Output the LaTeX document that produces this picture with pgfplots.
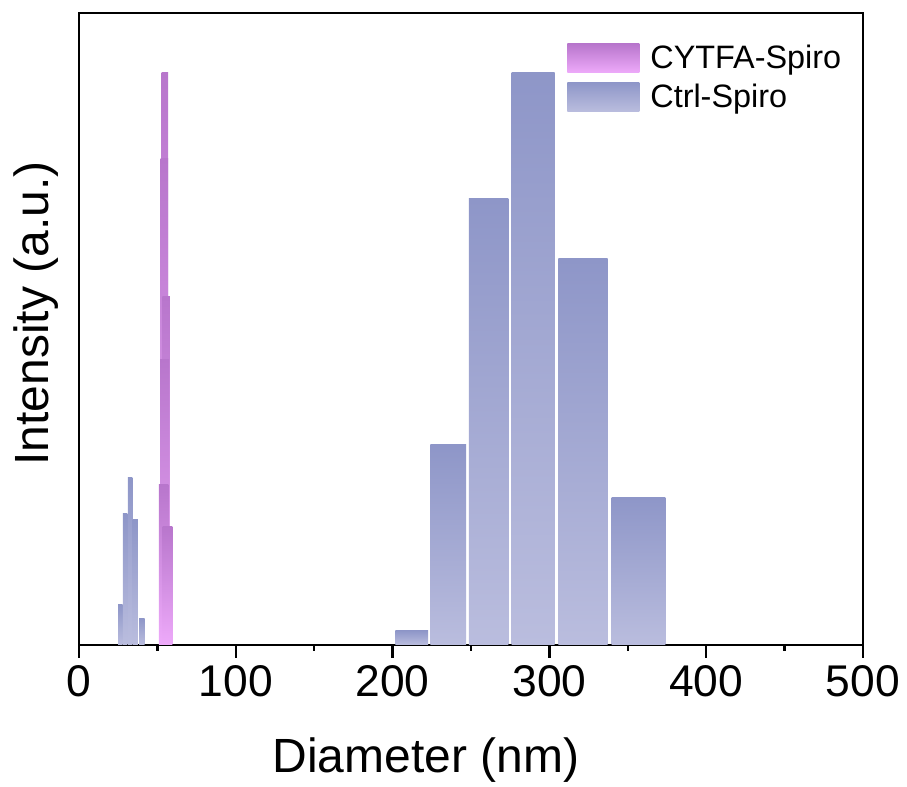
\documentclass[border=0pt]{standalone}
\usepackage{fontspec}
\setmainfont{Liberation Sans}
\usepackage{pgfplots}
\pgfplotsset{compat=1.18}
\definecolor{ctrlTop}{RGB}{142,150,200}
\definecolor{ctrlBot}{RGB}{186,189,222}
\definecolor{cyTop}{RGB}{184,118,204}
\definecolor{cyBot}{RGB}{238,170,250}
% bar: left edge, right edge, height
\newcommand{\ctrlbar}[3]{\addplot[draw=none, top color=ctrlTop, bottom color=ctrlBot, forget plot] coordinates {(#1,0) (#1,#3) (#2,#3) (#2,0)} -- cycle;}
\newcommand{\cybar}[3]{\addplot[draw=none, top color=cyTop, bottom color=cyBot, forget plot] coordinates {(#1,0) (#1,#3) (#2,#3) (#2,0)} -- cycle;}
\begin{document}
\begin{tikzpicture}
\path[use as bounding box] (-39.5pt,-71pt) rectangle (414pt,322.5pt);
\begin{axis}[
  at={(0,0)}, anchor=south west,
  width=392pt, height=316pt, scale only axis,
  xmin=0, xmax=500, ymin=0, ymax=110.4,
  xtick={0,100,...,500}, minor xtick={50,150,...,450},
  ytick=\empty,
  xtick pos=bottom, tick align=outside,
  major tick length=6.5pt, minor tick length=3pt,
  tick style={black, line width=1.2pt},
  axis line style={line width=1.35pt},
  tick label style={font=\fontsize{22.2}{26}\selectfont},
  /pgf/number format/assume math mode=true,
  xlabel={Diameter (nm)}, ylabel={Intensity (a.u.)},
  every axis x label/.style={at={(axis description cs:0.4426,-0.2025)}, anchor=base, font=\fontsize{24}{28}\selectfont},
  every axis y label/.style={at={(axis description cs:-0.03827,0.5245)}, anchor=base, rotate=90, font=\fontsize{24}{28}\selectfont},
  legend style={at={(axis description cs:0.6224,0.956)}, anchor=north west, draw=none, fill=none,
    font=\fontsize{16.2}{19}\selectfont, inner sep=0pt, column sep=3.5pt, row sep=2pt},
  legend cell align=left,
]
% Ctrl-Spiro, small population
\ctrlbar{24.9}{27.8}{7.1}
\ctrlbar{28.0}{30.9}{22.9}
\ctrlbar{31.1}{34.0}{29.3}
\ctrlbar{34.2}{37.6}{22.0}
\ctrlbar{38.3}{41.9}{4.7}
% Ctrl-Spiro, main population
\ctrlbar{201.7}{222.6}{2.5}
\ctrlbar{224.1}{246.9}{35.0}
\ctrlbar{248.6}{273.8}{78.0}
\ctrlbar{275.9}{303.4}{100}
\ctrlbar{305.8}{337.1}{67.5}
\ctrlbar{339.7}{374.0}{25.8}
% CYTFA-Spiro
\cybar{52.7}{56.9}{100}
\cybar{52.1}{56.9}{85.0}
\cybar{53.1}{58.0}{60.8}
\cybar{51.7}{57.5}{49.9}
\cybar{51.0}{57.0}{28.0}
\cybar{53.4}{59.5}{20.7}
\addlegendimage{draw=none, legend image code/.code={\shade[draw=none, top color=cyTop, bottom color=cyBot] (0pt,-7.25pt) rectangle (36pt,7.25pt);}}
\addlegendentry{CYTFA-Spiro}
\addlegendimage{draw=none, legend image code/.code={\shade[draw=none, top color=ctrlTop, bottom color=ctrlBot] (0pt,-7.25pt) rectangle (36pt,7.25pt);}}
\addlegendentry{Ctrl-Spiro}
\end{axis}
\end{tikzpicture}
\end{document}
